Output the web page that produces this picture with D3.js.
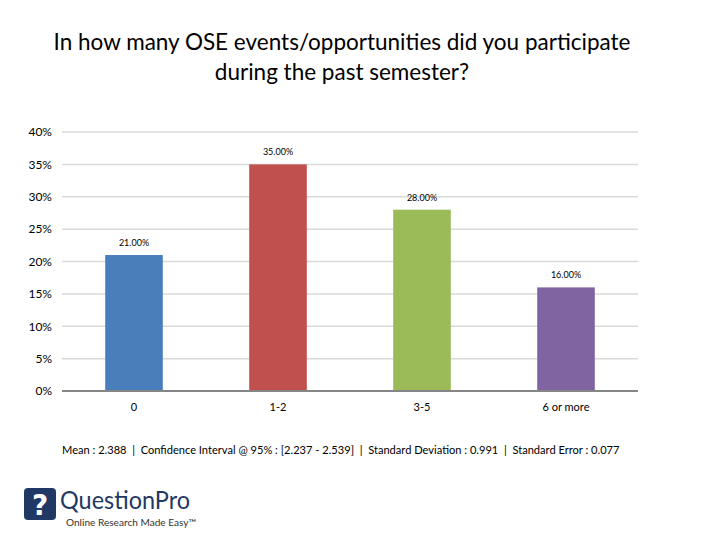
<!DOCTYPE html>
<html><head><meta charset="utf-8">
<script src="https://cdn.jsdelivr.net/npm/d3@7"></script>
<style>body{margin:0;background:#fff;} svg{display:block;}</style>
</head><body>
<svg id="chart" width="720" height="540"></svg>
<script>
const categories = ["0", "1-2", "3-5", "6 or more"];
const values = [21, 35, 28, 16];
const valueLabels = ["21.00%", "35.00%", "28.00%", "16.00%"];
const colors = ["#4a7ebb", "#c0504d", "#9bbb59", "#8064a2"];
const yTicks = [0, 5, 10, 15, 20, 25, 30, 35, 40];
const titleLines = ["In how many OSE events/opportunities did you participate", "during the past semester?"];
const statsText = "Mean : 2.388  |  Confidence Interval @ 95% : [2.237 - 2.539]  |  Standard Deviation : 0.991  |  Standard Error : 0.077";

const svg = d3.select("#chart");
const font = "Lato, 'Open Sans', sans-serif";

svg.selectAll("text.title").data(titleLines).join("text")
  .attr("class","title").attr("x",342).attr("y",(d,i)=>50+i*30)
  .attr("text-anchor","middle").attr("font-family",font).attr("font-size",22.5).attr("fill","#000")
  .text(d=>d);

const x = d3.scaleBand().domain(categories).range([62,638]).paddingInner(0.6).paddingOuter(0.3);
const y = d3.scaleLinear().domain([0,40]).range([391,132]);

const g = svg.append("g");
g.selectAll("line.grid").data(yTicks.filter(t=>t>0)).join("line")
  .attr("x1",62).attr("x2",638).attr("y1",d=>y(d)).attr("y2",d=>y(d))
  .attr("stroke","#d9d9d9").attr("stroke-width",1.5);

const yAxis = d3.axisLeft(y).tickValues(yTicks).tickFormat(d=>d+"%").tickSize(0).tickPadding(10);
const ya = svg.append("g").attr("transform","translate(62,0)").call(yAxis);
ya.select(".domain").remove();
ya.selectAll("text").attr("font-family",font).attr("font-size",12).attr("fill","#000");

g.selectAll("rect.bar").data(values).join("rect")
  .attr("x",(d,i)=>x(categories[i])).attr("width",x.bandwidth())
  .attr("y",d=>y(d)).attr("height",d=>y(0)-y(d))
  .attr("fill",(d,i)=>colors[i]);

g.selectAll("text.vl").data(values).join("text")
  .attr("x",(d,i)=>x(categories[i])+x.bandwidth()/2).attr("y",d=>y(d)-9)
  .attr("text-anchor","middle").attr("font-family",font).attr("font-size",9).attr("fill","#000")
  .text((d,i)=>valueLabels[i]);

const xAxis = d3.axisBottom(x).tickSize(0).tickPadding(12);
const xa = svg.append("g").attr("transform","translate(0,391)").call(xAxis);
xa.select(".domain").attr("d","M62,0H638").attr("stroke","#868686").attr("stroke-width",2);
xa.selectAll("text").attr("font-family",font).attr("font-size",11).attr("fill","#000");

svg.append("text").attr("x",62).attr("y",454).attr("font-family",font).attr("font-size",11.1)
  .attr("fill","#000").style("white-space","pre").text(statsText);

// Logo
const logo = svg.append("g");
logo.append("rect").attr("x",24).attr("y",488).attr("width",32).attr("height",32).attr("rx",4).attr("fill","#1f3864");
logo.append("text").attr("x",40).attr("y",515).attr("text-anchor","middle").attr("font-family","'DejaVu Sans', sans-serif")
  .attr("font-weight","bold").attr("font-size",28).attr("fill","#fff").text("?");
logo.append("text").attr("x",60).attr("y",509).attr("font-family",font).attr("font-size",25)
  .attr("textLength",130).attr("lengthAdjust","spacingAndGlyphs").attr("fill","#1f3864").text("QuestionPro");
logo.append("text").attr("x",66).attr("y",526).attr("font-family",font).attr("font-size",9.5)
  .attr("textLength",130).attr("lengthAdjust","spacingAndGlyphs").attr("fill","#333").text("Online Research Made Easy™");
</script>
</body></html>
